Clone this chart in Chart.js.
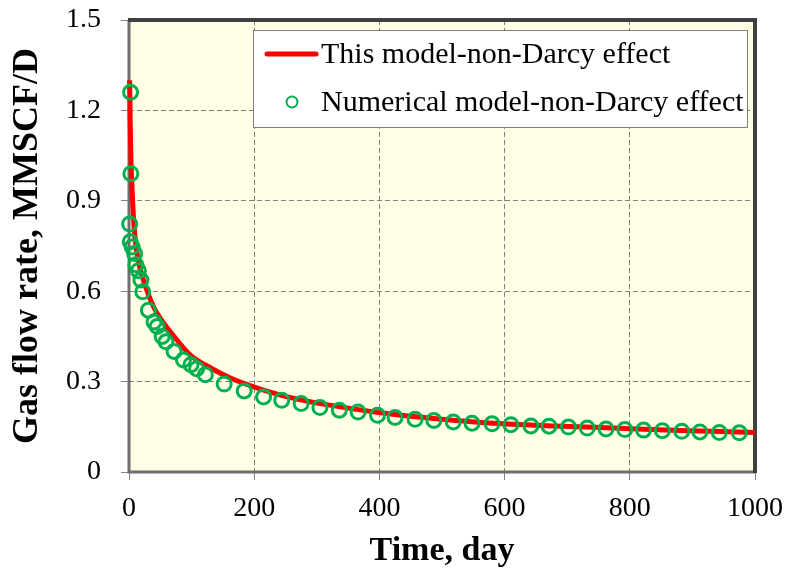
<!DOCTYPE html>
<html>
<head>
<meta charset="utf-8">
<script src="https://cdn.jsdelivr.net/npm/chart.js@4.4.1/dist/chart.umd.min.js"></script>
<style>
  html, body { margin: 0; padding: 0; background: #ffffff; }
  #wrap { width: 787px; height: 571px; }
</style>
</head>
<body>
<div id="wrap"><canvas id="rateChart" width="787" height="571"></canvas></div>
<script>
// analytical model curve
const modelDays = [1, 2, 3, 4, 5.5, 7, 10, 15, 21, 29, 40, 50, 70, 98, 122, 162, 215, 270, 335, 415, 495, 575, 680, 774, 880, 1000];
const modelRate = [1.30, 1.15, 1.04, 0.98, 0.91, 0.85, 0.77, 0.70, 0.65, 0.60, 0.545, 0.51, 0.455, 0.388, 0.355, 0.312, 0.272, 0.241, 0.217, 0.193, 0.176, 0.163, 0.153, 0.146, 0.138, 0.131];

// numerical simulation points
const numDays = [2.5, 3, 1, 2, 5, 9, 11, 15, 19, 22, 31, 40, 45, 53, 59, 72, 87, 99, 108, 122, 152, 184, 215, 244, 275, 305, 336, 366, 397, 425, 457, 487, 518, 548, 580, 610, 642, 671, 702, 732, 762, 792, 822, 852, 883, 912, 943, 975];
const numRate = [1.26, 0.99, 0.823, 0.764, 0.747, 0.725, 0.688, 0.668, 0.637, 0.598, 0.537, 0.498, 0.483, 0.450, 0.432, 0.400, 0.372, 0.356, 0.343, 0.323, 0.292, 0.269, 0.249, 0.238, 0.227, 0.214, 0.205, 0.199, 0.188, 0.181, 0.175, 0.171, 0.166, 0.162, 0.160, 0.157, 0.153, 0.152, 0.149, 0.146, 0.143, 0.141, 0.139, 0.137, 0.135, 0.133, 0.131, 0.130];

const xTicks = [0, 200, 400, 600, 800, 1000];
const xTickLabels = ['0', '200', '400', '600', '800', '1000'];
const yTicks = [0, 0.3, 0.6, 0.9, 1.2, 1.5];
const yTickLabels = ['0', '0.3', '0.6', '0.9', '1.2', '1.5'];

const serif = '"Liberation Serif", "Times New Roman", serif';
const plotBg = '#FFFFE6';

function toPoints(xs, ys) {
    return xs.map((x, i) => ({ x: x, y: ys[i] }));
}

const frameAndLegend = {
    id: 'frameAndLegend',
    beforeDraw(chart) {
        const { ctx, chartArea: a } = chart;
        ctx.save();
        ctx.fillStyle = '#ffffff';
        ctx.fillRect(0, 0, chart.width, chart.height);
        ctx.fillStyle = plotBg;
        ctx.fillRect(a.left, a.top, a.right - a.left, a.bottom - a.top);
        ctx.restore();
    },
    beforeDatasetsDraw(chart) {
        const { ctx, chartArea: a } = chart;
        ctx.save();
        ctx.lineWidth = 3;
        ctx.strokeStyle = '#6e6e6e';
        ctx.beginPath();
        ctx.moveTo(a.left, a.top);
        ctx.lineTo(a.left, a.bottom);
        ctx.lineTo(a.right, a.bottom);
        ctx.stroke();
        ctx.lineWidth = 4;
        ctx.strokeStyle = '#404040';
        ctx.beginPath();
        ctx.moveTo(a.left - 1, a.top);
        ctx.lineTo(a.right, a.top);
        ctx.lineTo(a.right, a.bottom + 1);
        ctx.stroke();
        ctx.restore();
    },
    afterDraw(chart) {
        const ctx = chart.ctx;
        const ds = chart.data.datasets;
        const line = ds.find(d => d.showLine);
        const dots = ds.find(d => !d.showLine);
        ctx.save();
        ctx.fillStyle = '#ffffff';
        ctx.fillRect(253, 30, 494, 97);
        ctx.strokeStyle = '#808080';
        ctx.lineWidth = 1;
        ctx.strokeRect(253.5, 30.5, 494, 97);

        ctx.strokeStyle = line.borderColor;
        ctx.lineWidth = 5;
        ctx.lineCap = 'round';
        ctx.beginPath();
        ctx.moveTo(267, 54);
        ctx.lineTo(316, 54);
        ctx.stroke();

        ctx.strokeStyle = dots.borderColor;
        ctx.lineWidth = 2;
        ctx.beginPath();
        ctx.arc(292, 102, 5.5, 0, Math.PI * 2);
        ctx.stroke();

        ctx.fillStyle = '#000000';
        ctx.font = '30px ' + serif;
        ctx.textBaseline = 'middle';
        ctx.textAlign = 'left';
        ctx.fillText(line.label, 321, 55);
        ctx.fillText(dots.label, 321, 103);
        ctx.restore();
    }
};

const rateCtx = document.getElementById('rateChart').getContext('2d');
const rateChart = new Chart(rateCtx, {
    type: 'scatter',
    data: {
        datasets: [
            {
                label: 'Numerical model-non-Darcy effect',
                data: toPoints(numDays, numRate),
                showLine: false,
                borderColor: '#00B050',
                backgroundColor: 'rgba(0,0,0,0)',
                pointRadius: 7,
                pointBorderWidth: 3,
                pointHoverRadius: 7,
                clip: false,
                order: 0
            },
            {
                label: 'This model-non-Darcy effect',
                data: toPoints(modelDays, modelRate),
                showLine: true,
                borderColor: '#FF0000',
                backgroundColor: '#FF0000',
                borderWidth: 5,
                pointRadius: 0,
                cubicInterpolationMode: 'monotone',
                clip: false,
                order: 1
            }
        ]
    },
    options: {
        responsive: false,
        animation: false,
        devicePixelRatio: 1,
        layout: {
            padding: { left: 0, right: 32, top: 20, bottom: 0 }
        },
        plugins: {
            legend: { display: false },
            tooltip: { enabled: false }
        },
        scales: {
            x: {
                type: 'linear',
                min: 0,
                max: 1000,
                afterBuildTicks: s => { s.ticks = xTicks.map(v => ({ value: v })); },
                afterFit: s => { s.height = 99; s.paddingLeft = 0; s.paddingRight = 0; },
                ticks: {
                    callback: (v, i) => xTickLabels[i],
                    color: '#000000',
                    font: { family: serif, size: 28 },
                    padding: 12,
                    maxRotation: 0,
                    autoSkip: false
                },
                grid: {
                    color: '#808080',
                    lineWidth: 1,
                    tickLength: 8,
                    tickColor: '#808080'
                },
                border: { display: false, dash: [5, 3] },
                title: {
                    display: true,
                    text: 'Time, day',
                    color: '#000000',
                    font: { family: serif, size: 34, weight: 'bold', lineHeight: 1 },
                    padding: { top: 0, bottom: 3 }
                }
            },
            y: {
                type: 'linear',
                min: 0,
                max: 1.5,
                afterBuildTicks: s => { s.ticks = yTicks.map(v => ({ value: v })); },
                afterFit: s => { s.width = 129; s.paddingTop = 0; s.paddingBottom = 0; },
                ticks: {
                    callback: (v, i) => yTickLabels[i],
                    color: '#000000',
                    font: { family: serif, size: 28 },
                    padding: 20,
                    autoSkip: false
                },
                grid: {
                    color: '#808080',
                    lineWidth: 1,
                    tickLength: 8,
                    tickColor: '#808080'
                },
                border: { display: false, dash: [5, 3] },
                title: {
                    display: true,
                    text: 'Gas flow rate, MMSCF/D',
                    color: '#000000',
                    font: { family: serif, size: 36, weight: 'bold', lineHeight: 1 },
                    padding: { top: 10, bottom: 0 }
                }
            }
        }
    },
    plugins: [frameAndLegend]
});
</script>
</body>
</html>
